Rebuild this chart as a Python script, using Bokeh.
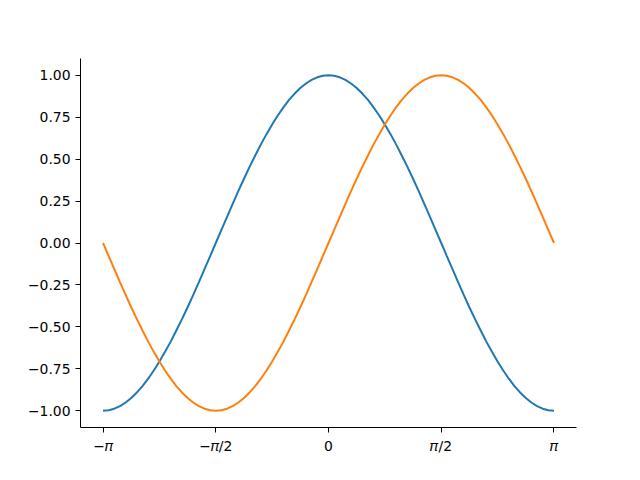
from bokeh.plotting import figure
from bokeh.models import Range1d, FixedTicker, CustomJSTickFormatter
from bokeh.embed import file_html
from bokeh.resources import INLINE

x = [-3.142, -3.063, -2.985, -2.906, -2.827, -2.749, -2.670, -2.592, -2.513, -2.435,
     -2.356, -2.278, -2.199, -2.121, -2.042, -1.963, -1.885, -1.806, -1.728, -1.649,
     -1.571, -1.492, -1.414, -1.335, -1.257, -1.178, -1.100, -1.021, -0.942, -0.864,
     -0.785, -0.707, -0.628, -0.550, -0.471, -0.393, -0.314, -0.236, -0.157, -0.079,
     0.000,
     0.079, 0.157, 0.236, 0.314, 0.393, 0.471, 0.550, 0.628, 0.707, 0.785,
     0.864, 0.942, 1.021, 1.100, 1.178, 1.257, 1.335, 1.414, 1.492, 1.571,
     1.649, 1.728, 1.806, 1.885, 1.963, 2.042, 2.121, 2.199, 2.278, 2.356,
     2.435, 2.513, 2.592, 2.670, 2.749, 2.827, 2.906, 2.985, 3.063, 3.142]
cos_y = [-1.000, -0.997, -0.988, -0.972, -0.951, -0.924, -0.891, -0.853, -0.809, -0.760,
         -0.707, -0.649, -0.588, -0.522, -0.454, -0.383, -0.309, -0.233, -0.156, -0.078,
         0.000, 0.078, 0.156, 0.233, 0.309, 0.383, 0.454, 0.522, 0.588, 0.649,
         0.707, 0.760, 0.809, 0.853, 0.891, 0.924, 0.951, 0.972, 0.988, 0.997,
         1.000,
         0.997, 0.988, 0.972, 0.951, 0.924, 0.891, 0.853, 0.809, 0.760, 0.707,
         0.649, 0.588, 0.522, 0.454, 0.383, 0.309, 0.233, 0.156, 0.078, 0.000,
         -0.078, -0.156, -0.233, -0.309, -0.383, -0.454, -0.522, -0.588, -0.649, -0.707,
         -0.760, -0.809, -0.853, -0.891, -0.924, -0.951, -0.972, -0.988, -0.997, -1.000]
sin_y = [0.000, -0.078, -0.156, -0.233, -0.309, -0.383, -0.454, -0.522, -0.588, -0.649,
         -0.707, -0.760, -0.809, -0.853, -0.891, -0.924, -0.951, -0.972, -0.988, -0.997,
         -1.000, -0.997, -0.988, -0.972, -0.951, -0.924, -0.891, -0.853, -0.809, -0.760,
         -0.707, -0.649, -0.588, -0.522, -0.454, -0.383, -0.309, -0.233, -0.156, -0.078,
         0.000,
         0.078, 0.156, 0.233, 0.309, 0.383, 0.454, 0.522, 0.588, 0.649, 0.707,
         0.760, 0.809, 0.853, 0.891, 0.924, 0.951, 0.972, 0.988, 0.997, 1.000,
         0.997, 0.988, 0.972, 0.951, 0.924, 0.891, 0.853, 0.809, 0.760, 0.707,
         0.649, 0.588, 0.522, 0.454, 0.383, 0.309, 0.233, 0.156, 0.078, 0.000]
x_ticks = [-3.14159, -1.5708, 0.0, 1.5708, 3.14159]
x_tick_labels = ["\u2212\U0001D70B", "\u2212\U0001D70B/2", "0", "\U0001D70B/2", "\U0001D70B"]
y_ticks = [-1.0, -0.75, -0.5, -0.25, 0.0, 0.25, 0.5, 0.75, 1.0]

p = figure(output_backend="svg", toolbar_location=None,
           frame_width=496, frame_height=369,
           min_border_left=80, min_border_right=60,
           min_border_top=58, min_border_bottom=50,
           x_range=Range1d(-3.456, 3.456), y_range=Range1d(-1.1, 1.1))
p.outline_line_color = None
p.grid.visible = False
p.background_fill_color = "white"

p.line(x, cos_y, line_color="#1f77b4", line_width=2)
p.line(x, sin_y, line_color="#ff7f0e", line_width=2)

p.xaxis.ticker = FixedTicker(ticks=x_ticks)
p.xaxis.major_label_overrides = {t: l for t, l in zip(x_ticks, x_tick_labels)}
p.yaxis.ticker = FixedTicker(ticks=y_ticks)
p.yaxis.formatter = CustomJSTickFormatter(code="return tick.toFixed(2).replace('-', '\u2212');")

for ax in (p.xaxis[0], p.yaxis[0]):
    ax.major_tick_out = 5
    ax.major_tick_in = 0
    ax.minor_tick_line_color = None
    ax.axis_line_color = "black"
    ax.axis_line_width = 1
    ax.major_tick_line_color = "black"
    ax.major_label_text_font = "DejaVu Sans"
    ax.major_label_text_font_size = "13.9px"
    ax.major_label_text_color = "black"
    ax.major_label_standoff = 5

open("out.html", "w").write(file_html(p, INLINE))
